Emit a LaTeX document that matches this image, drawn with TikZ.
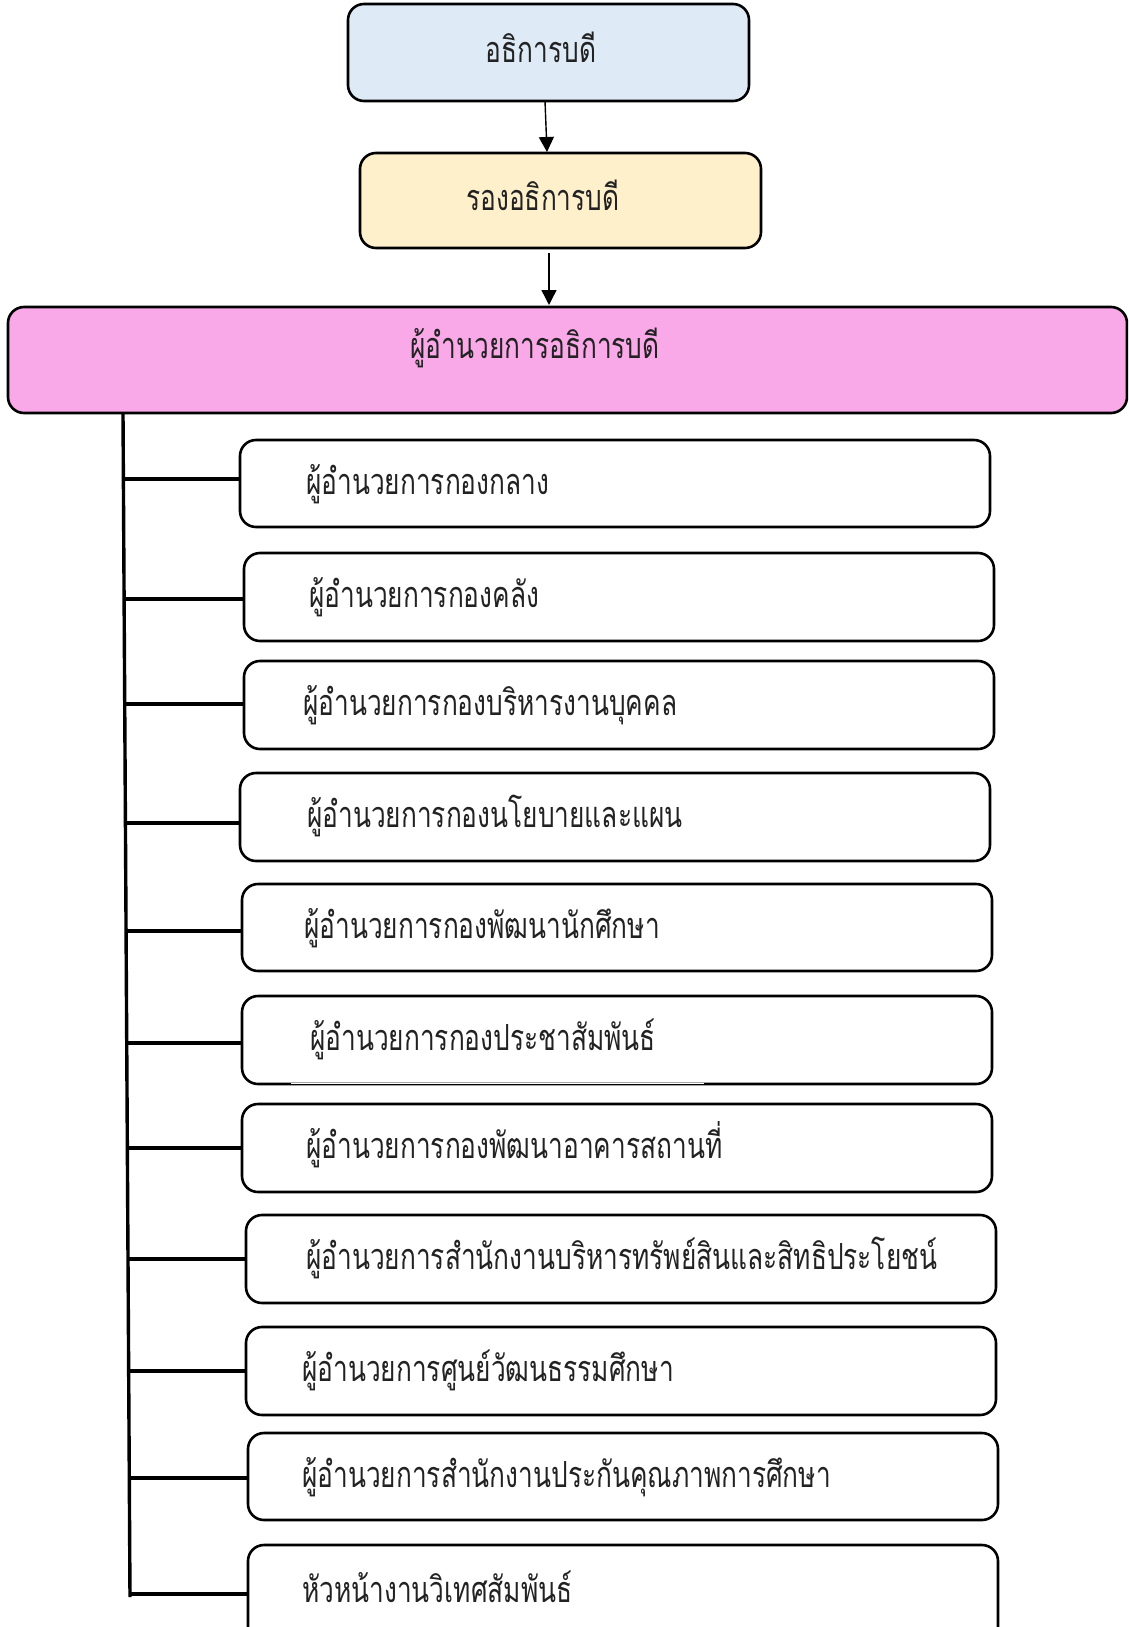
\documentclass[tikz,border=0pt]{standalone}
\usepackage{fontspec}
\newfontfamily\thaifont[Script=Thai,FakeStretch=0.73]{Loma}
\usetikzlibrary{arrows.meta}
\definecolor{topblue}{HTML}{DEEAF6}
\definecolor{vicey}{HTML}{FFF0CC}
\definecolor{pinkb}{HTML}{F9A8E8}
\definecolor{txt}{HTML}{222222}
\tikzset{
  boxs/.style={draw=black, line width=2.6pt, rounded corners=16pt},
  lbl/.style={anchor=base west, inner sep=0pt, text=txt, font=\thaifont\fontsize{36}{42}\selectfont},
  lblc/.style={anchor=base, inner sep=0pt, text=txt, font=\thaifont\fontsize{36}{42}\selectfont},
  conn/.style={line width=3.4pt},
  arr/.style={line width=1.4pt, -{Triangle[width=15pt,length=15pt]}},
}
\begin{document}
\begin{tikzpicture}[x=1pt,y=-1pt]
\useasboundingbox (0,0) rectangle (1128,1627);
\clip (0,0) rectangle (1128,1627);
\fill[white] (0,0) rectangle (1128,1627);
% top boxes
\node[boxs, fill=topblue, minimum width=401pt, minimum height=97pt, inner sep=0pt] (pres) at (548.5,52.5) {};
\node[lblc] (presT) at (541,63) {อธิการบดี};
\node[boxs, fill=vicey, minimum width=401pt, minimum height=95pt, inner sep=0pt] (vice) at (560.5,200.5) {};
\node[lblc] (viceT) at (543,210) {รองอธิการบดี};
\node[boxs, fill=pinkb, minimum width=1119pt, minimum height=106pt, inner sep=0pt] (dir) at (567.5,360) {};
\node[lblc] (dirT) at (535,358) {ผู้อำนวยการอธิการบดี};
\coordinate (a1s) at (545,101);
\coordinate (a1e) at (547,152);
\coordinate (a2s) at (549,253);
\coordinate (a2e) at (549,305);
\draw[arr] (a1s) -- (a1e);
\draw[arr] (a2s) -- (a2e);
% trunk
\coordinate (ttop) at (123,413);
\coordinate (tbot) at (130,1597);
\draw[conn] (ttop) -- (tbot);
% child boxes: name, left, top, right, bottom, text x, baseline, text
\foreach \n/\l/\t/\r/\b/\tx/\bl/\s in {
 c1/240/440/990/527/306/494/{ผู้อำนวยการกองกลาง},
 c2/244/553/994/641/309/607/{ผู้อำนวยการกองคลัง},
 c3/244/661/994/749/303/715/{ผู้อำนวยการกองบริหารงานบุคคล},
 c4/240/773/990/861/307/827/{ผู้อำนวยการกองนโยบายและแผน},
 c5/242/884/992/971/304/938/{ผู้อำนวยการกองพัฒนานักศึกษา},
 c6/242/996/992/1084/310/1050/{ผู้อำนวยการกองประชาสัมพันธ์},
 c7/242/1104/992/1192/306/1158/{ผู้อำนวยการกองพัฒนาอาคารสถานที่},
 c8/246/1215/996/1303/306/1269/{ผู้อำนวยการสำนักงานบริหารทรัพย์สินและสิทธิประโยชน์},
 c9/246/1327/996/1415/302/1381/{ผู้อำนวยการศูนย์วัฒนธรรมศึกษา},
 c10/248/1433/998/1520/302/1487/{ผู้อำนวยการสำนักงานประกันคุณภาพการศึกษา},
 c11/248/1545/998/1650/302/1602/{หัวหน้างานวิเทศสัมพันธ์}}
{
  \pgfmathsetmacro{\w}{\r-\l}
  \pgfmathsetmacro{\h}{\b-\t}
  \pgfmathsetmacro{\cx}{(\r+\l)/2}
  \pgfmathsetmacro{\cy}{(\b+\t)/2}
  \node[boxs, fill=white, minimum width=\w pt, minimum height=\h pt, inner sep=0pt] (\n) at (\cx,\cy) {};
  \node[lbl] (\n T) at (\tx,\bl) {\s};
}
% thinner segment on the bottom edge of box c6
\coordinate (g1) at (291,1084);
\coordinate (g2) at (704,1084);
\draw[white, line width=2.8pt] (g1) -- (g2);
\draw[line width=1.8pt] ([yshift=-0.4pt]g1) -- ([yshift=-0.4pt]g2);
% connectors
\foreach \n/\y in {c1/479,c2/599,c3/704,c4/823,c5/931,c6/1043,c7/1148,c8/1259,c9/1371,c10/1478,c11/1594}{
  \pgfmathsetmacro{\tx}{123+7*(\y-413)/1184}
  \coordinate (\n j) at (\tx,\y);
  \draw[conn] (\n j) -- (\n j -| \n.west);
}
\end{tikzpicture}
\end{document}
